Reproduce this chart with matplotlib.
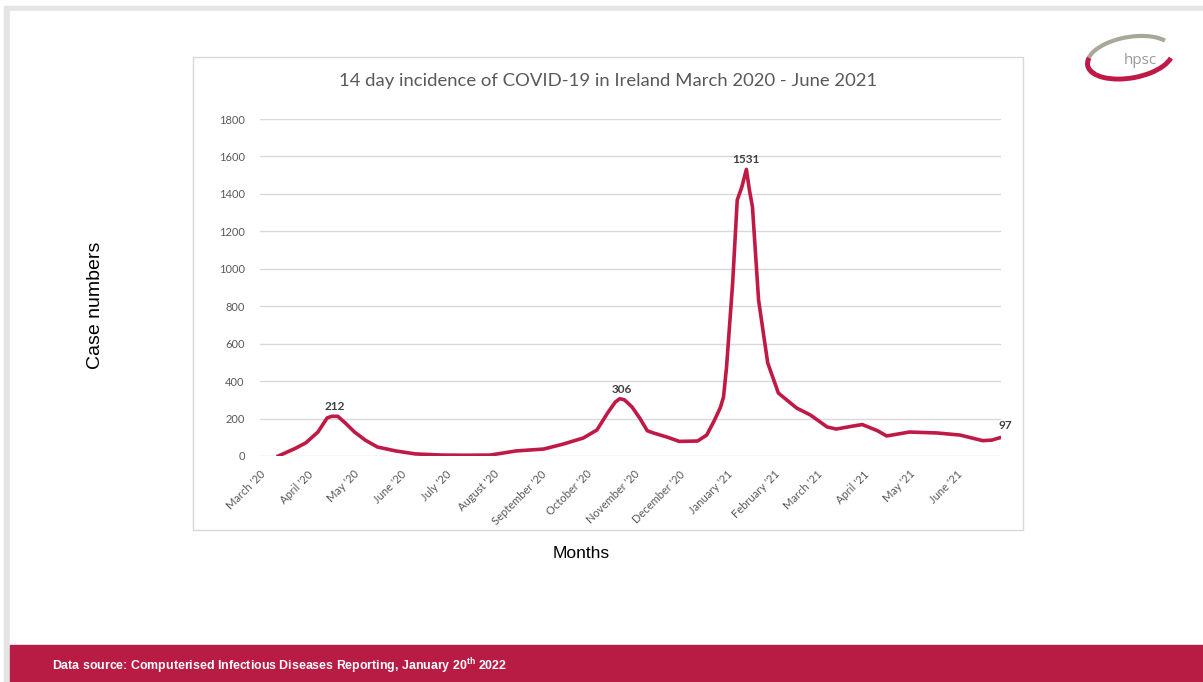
import matplotlib.pyplot as plt
import pandas as pd
from matplotlib.patches import Rectangle, Arc

# 14 天发病数
dates = [
    "2020-03-13", "2020-03-24", "2020-03-31", "2020-04-08", "2020-04-14",
    "2020-04-17", "2020-04-21", "2020-04-26", "2020-05-02", "2020-05-09",
    "2020-05-17", "2020-05-29", "2020-06-11", "2020-06-28", "2020-07-14",
    "2020-07-30", "2020-08-16", "2020-09-03", "2020-09-16", "2020-09-29",
    "2020-10-08", "2020-10-15", "2020-10-20", "2020-10-23", "2020-10-26",
    "2020-10-31", "2020-11-05", "2020-11-10", "2020-11-14", "2020-11-23",
    "2020-12-01", "2020-12-13", "2020-12-19", "2020-12-24", "2020-12-28",
    "2020-12-30", "2021-01-01", "2021-01-05", "2021-01-08", "2021-01-11",
    "2021-01-14", "2021-01-16", "2021-01-18", "2021-01-22", "2021-01-28",
    "2021-02-04", "2021-02-16", "2021-02-25", "2021-03-08", "2021-03-14",
    "2021-03-25", "2021-03-31", "2021-04-10", "2021-04-16", "2021-05-01",
    "2021-05-19", "2021-06-03", "2021-06-18", "2021-06-24", "2021-06-29",
]
cases = [
    0, 40, 70, 128, 203,
    212, 212, 176, 128, 85,
    48, 27, 11, 5, 4,
    5, 27, 37, 64, 96,
    139, 230, 288, 306, 300,
    262, 203, 135, 123, 101,
    78, 80, 112, 190, 260,
    315, 475, 924, 1367, 1436,
    1531, 1420, 1330, 833, 497,
    336, 256, 219, 155, 144,
    160, 168, 135, 107, 128,
    123, 112, 82, 85, 97,
]

month_starts = pd.date_range("2020-03-01", "2021-06-01", freq="MS")
month_labels = [
    "March '20", "April '20", "May '20", "June '20", "July '20", "August '20",
    "September '20", "October '20", "November '20", "December '20",
    "January '21", "February '21", "March '21", "April '21", "May '21", "June '21",
]

# 标注的峰值
peak_labels = ["212", "306", "1531", "97"]
peak_dates = ["2020-04-19", "2020-10-24", "2021-01-14", "2021-06-29"]
peak_values = [212, 306, 1531, 97]

LINE_COLOR = "#bf1a45"
GRID_COLOR = "#d9d9d9"
TEXT_GREY = "#595959"

plt.rcParams["font.family"] = ["Lato", "DejaVu Sans"]
plt.rcParams["mathtext.fontset"] = "custom"
plt.rcParams["mathtext.bf"] = "Liberation Sans:bold"
plt.rcParams["mathtext.rm"] = "Liberation Sans:bold"

W, H = 1203, 682
fig = plt.figure(figsize=(W / 100, H / 100), dpi=100)

# 背景层，像素坐标
bg = fig.add_axes([0, 0, 1, 1], zorder=0)
bg.set_xlim(0, W)
bg.set_ylim(H, 0)
bg.axis("off")
bg.add_patch(Rectangle((0, 0), W, H, color="white"))
bg.add_patch(Rectangle((4, 6), W - 4, H - 6, color="#e4e4e4"))
bg.add_patch(Rectangle((10, 11), W - 10, H - 11, color="white"))
bg.add_patch(Rectangle((193, 57), 830, 473, fill=False, ec=GRID_COLOR, lw=1))
bg.add_patch(Rectangle((10, 645), W - 10, H - 645, color="#b81c44"))

# hpsc 标志
bg.add_patch(Arc((1130, 57), 86, 40, angle=-10, theta1=165, theta2=345,
                 color="#a9a79a", lw=3))
bg.add_patch(Arc((1130, 58), 86, 40, angle=-10, theta1=10, theta2=190,
                 color=LINE_COLOR, lw=3.5))
bg.text(1140, 61, "hpsc", color="#9a9a9a", fontsize=11, ha="center",
        va="center", family=["Open Sans", "DejaVu Sans"])

bg.text(52, 666, r"Data source: Computerised Infectious Diseases Reporting, January 20$^{\mathbf{th}}$ 2022",
        color="white", fontsize=8.9, fontweight="bold", ha="left", va="center",
        family=["Liberation Sans", "DejaVu Sans"])

bg.text(95, 305, "Case numbers", rotation=90, fontsize=14, ha="center",
        va="center", family=["Liberation Sans", "DejaVu Sans"])
bg.text(581, 553, "Months", fontsize=12.5, ha="center", va="center",
        family=["Liberation Sans", "DejaVu Sans"])
bg.text(608, 81, "14 day incidence of COVID-19 in Ireland March 2020 - June 2021",
        fontsize=13.3, color=TEXT_GREY, ha="center", va="center")

# 主图
x0, x1 = 260 / W, 1001 / W
y0, y1 = 1 - 456 / H, 1 - 119 / H
ax = fig.add_axes([x0, y0, x1 - x0, y1 - y0], zorder=2)
ax.patch.set_alpha(0)

x = pd.to_datetime(dates)
ax.plot(x, cases, color=LINE_COLOR, lw=2.6, solid_joinstyle="round")

ax.set_ylim(0, 1800)
ax.set_yticks(range(0, 1801, 200))
ax.set_xlim(pd.Timestamp("2020-03-01"), pd.Timestamp("2021-06-30"))
ax.set_xticks(month_starts)
ax.set_xticklabels(month_labels, rotation=45, ha="right", rotation_mode="anchor")

ax.grid(axis="y", color=GRID_COLOR, lw=1)
ax.set_axisbelow(True)
for s in ax.spines.values():
    s.set_visible(False)
ax.tick_params(axis="both", length=0, labelsize=8, labelcolor=TEXT_GREY)
ax.tick_params(axis="y", pad=11)
ax.tick_params(axis="x", pad=9)

for lab, d, v in zip(peak_labels, peak_dates, peak_values):
    dx, dy = (4, 5) if lab == "97" else (0, 3)
    ax.annotate(lab, (pd.Timestamp(d), v), xytext=(dx, dy),
                textcoords="offset points", ha="center", va="bottom",
                fontsize=8.5, fontweight="bold", color="#404040")

fig.savefig("out.png", dpi=100)
